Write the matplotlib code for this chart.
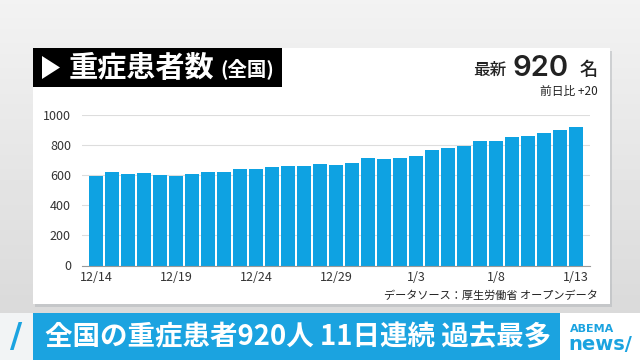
import numpy as np
import matplotlib.pyplot as plt
from matplotlib.patches import Rectangle, Polygon

plt.rcParams['font.family'] = ['Noto Sans CJK JP', 'DejaVu Sans']

# 重症患者数（全国） 12/14 - 1/13
dates = ["12/14", "12/15", "12/16", "12/17", "12/18", "12/19", "12/20", "12/21",
         "12/22", "12/23", "12/24", "12/25", "12/26", "12/27", "12/28", "12/29",
         "12/30", "12/31", "1/1", "1/2", "1/3", "1/4", "1/5", "1/6", "1/7",
         "1/8", "1/9", "1/10", "1/11", "1/12", "1/13"]
patients = [592, 621, 605, 612, 599, 592, 605, 621, 621, 643, 643, 654, 661, 661,
            676, 667, 681, 716, 710, 714, 729, 769, 783, 796, 825, 827, 851, 862,
            880, 900, 920]
yticks = [0, 200, 400, 600, 800, 1000]
shown_labels = ["12/14", "12/19", "12/24", "12/29", "1/3", "1/8", "1/13"]

latest = patients[-1]
diff = patients[-1] - patients[-2]

W, H = 640, 360
fig = plt.figure(figsize=(6.4, 3.6), dpi=100)

# 背景
bg = fig.add_axes([0, 0, 1, 1])
bg.set_xlim(0, W)
bg.set_ylim(H, 0)
bg.axis('off')
grad = np.linspace(0.95, 0.84, 100).reshape(-1, 1)
bg.imshow(grad, cmap='gray', vmin=0, vmax=1, extent=[0, W, H, 0], aspect='auto')

# 白いパネル
bg.add_patch(Rectangle((35, 51), 577, 256, facecolor='#b0b4b8', edgecolor='none', alpha=0.5))
bg.add_patch(Rectangle((33, 48), 577, 256, facecolor='white', edgecolor='none'))
# タイトルの黒い箱
bg.add_patch(Rectangle((33, 48), 249, 39, facecolor='black', edgecolor='none'))
bg.add_patch(Polygon([[42, 56], [42, 79], [60, 67.5]], closed=True,
                     facecolor='white', edgecolor='none'))
bg.text(69, 68, "重症患者数", color='white', fontsize=21, fontweight='bold',
        va='center', ha='left')
bg.text(220, 69, "(全国)", color='white', fontsize=14, fontweight='bold',
        va='center', ha='left')

# 最新値
bg.text(506, 70, "最新", color='#222222', fontsize=12, fontweight='medium',
        va='center', ha='right')
bg.text(541, 69, f"{latest}", color='#222222', fontsize=21, fontweight='semibold',
        va='center', ha='center', family='Inter')
bg.text(598, 70, "名", color='#222222', fontsize=13, fontweight='medium',
        va='center', ha='right')
bg.text(598, 91, f"前日比 +{diff}", color='#222222', fontsize=8.5,
        va='center', ha='right')

# 出典
bg.text(598, 296, "データソース：厚生労働省 オープンデータ", color='#222222',
        fontsize=8, va='center', ha='right')

# 下部のバナー
bg.add_patch(Rectangle((0, 313), 33, 47, facecolor='#f2f4f5', edgecolor='none'))
bg.text(16, 337, "/", color='#1ba3e0', fontsize=24, fontweight='bold',
        va='center', ha='center', family='DejaVu Sans')
bg.add_patch(Rectangle((33, 313), 527, 47, facecolor='#1ba3e0', edgecolor='none'))
bg.text(298, 337, "全国の重症患者920人 11日連続 過去最多", color='white',
        fontsize=19.8, fontweight='bold', va='center', ha='center')
bg.add_patch(Rectangle((560, 313), 80, 47, facecolor='white', edgecolor='none'))
bg.text(570, 329, "ABEMA", color='#1ba3e0', fontsize=8, fontweight='bold',
        va='center', ha='left', family='DejaVu Sans')
bg.text(568, 345, "news/", color='#1ba3e0', fontsize=14, fontweight='bold',
        va='center', ha='left', family='DejaVu Sans')

# 棒グラフ
ax = fig.add_axes([82 / W, 1 - 265.5 / H, (590 - 82) / W, (265.5 - 115) / H])
ax.set_facecolor('none')
x = np.arange(len(dates))
ax.bar(x, patients, width=0.83, color='#0ea2e2', zorder=2)
ax.set_xlim(-0.875, len(dates) - 0.125)
ax.set_ylim(0, 1000)
ax.set_yticks(yticks)
ax.set_yticklabels([str(v) for v in yticks])
tick_pos = [dates.index(d) for d in shown_labels]
ax.set_xticks(tick_pos)
ax.set_xticklabels(shown_labels)
ax.grid(axis='y', color='#dddddd', linewidth=0.8, zorder=0)
for s in ['top', 'right', 'left']:
    ax.spines[s].set_visible(False)
ax.spines['bottom'].set_color('#999999')
ax.spines['bottom'].set_linewidth(0.8)
ax.tick_params(axis='both', length=0, labelsize=9, colors='#333333')
ax.tick_params(axis='y', pad=8)
ax.tick_params(axis='x', pad=4)

fig.savefig('out.png', dpi=100)
